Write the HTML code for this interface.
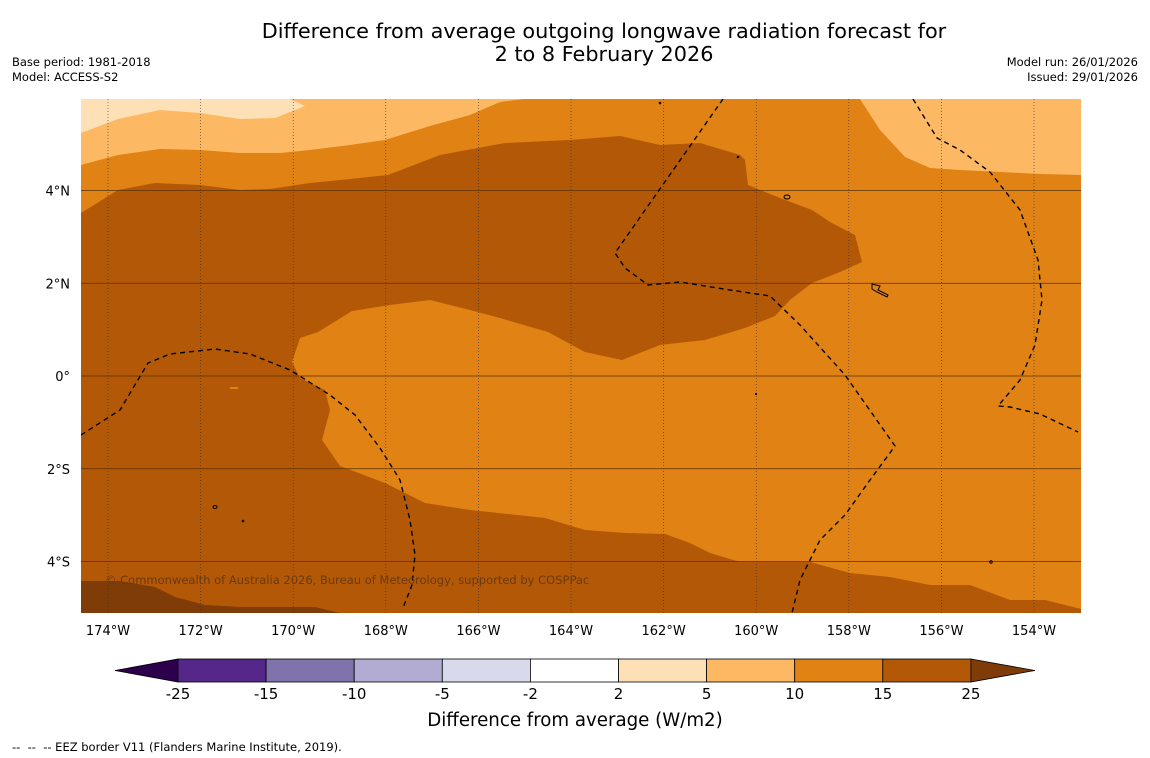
<!DOCTYPE html>
<html><head><meta charset="utf-8">
<style>
body{margin:0;background:#fff;width:1150px;height:758px;overflow:hidden;font-family:"DejaVu Sans","Liberation Sans",sans-serif}
svg{position:absolute;left:0;top:0;font-family:"DejaVu Sans","Liberation Sans",sans-serif}
</style></head>
<body>
<svg id="chart" width="1150" height="758" viewBox="0 0 1150 758" xmlns="http://www.w3.org/2000/svg">
<text x="604" y="38" text-anchor="middle" font-size="20.8" fill="#000">Difference from average outgoing longwave radiation forecast for</text>
<text x="604" y="61" text-anchor="middle" font-size="20.8" fill="#000">2 to 8 February 2026</text>
<text x="12" y="66" font-size="11.5">Base period: 1981-2018</text>
<text x="12" y="81" font-size="11.5">Model: ACCESS-S2</text>
<text x="1138" y="66" font-size="11.5" text-anchor="end">Model run: 26/01/2026</text>
<text x="1138" y="81" font-size="11.5" text-anchor="end">Issued: 29/01/2026</text>
<defs><clipPath id="mapclip"><rect x="81" y="99" width="1000" height="514"/></clipPath></defs>
<g clip-path="url(#mapclip)">
<rect x="81" y="99" width="1000" height="514" fill="#e08214"/>
<polygon fill="#fdb863" points="81,99 525,99 500,102 470,115 430,126 385,140 350,145 310,150 280,153 240,153 200,150 160,149 118,155 81,165"/>
<polygon fill="#fee0b6" points="81,99 290,99 305,106 275,118 240,119 200,113 160,110 118,119 81,133"/>
<polygon fill="#fdb863" points="860,99 1081,99 1081,175 1040,174 1000,172 960,170 930,168 905,157 880,130"/>
<polygon fill="#b35806" points="81,213 118,190 155,183 200,185 240,190 270,189 310,183 350,179 388,175 440,155 505,143 570,140 620,136 660,145 700,143 740,155 745,160 748,185 780,198 812,210 830,222 855,235 862,262 840,272 812,283 790,300 775,316 745,328 705,340 660,345 622,360 585,352 548,332 500,318 470,310 430,300 390,305 352,311 318,332 300,338 292,362 300,378 325,390 330,410 322,440 340,466 385,483 425,503 470,510 545,518 585,530 625,533 665,534 690,543 710,553 740,562 810,562 850,573 890,577 930,585 970,585 1010,600 1045,600 1081,609 1081,613 81,613"/>
<polygon fill="#7f3b08" points="81,581 120,581 155,587 175,597 205,605 240,607 315,607 340,613 81,613"/>
<rect x="230" y="387" width="8" height="2" fill="#e08214"/>
<g id="grid"></g>
<g fill="none" stroke="#000" stroke-width="1.4" stroke-dasharray="5,4">
<polyline points="723,99 615,253 625,268 648,285 680,282 730,290 770,296 800,325 845,375 895,446 870,480 845,515 820,540 800,580 792,613"/>
<polyline points="913,99 937,138 960,150 990,172 1020,210 1038,260 1042,300 1035,345 1020,380 998,406 1010,407 1040,414 1078,432"/>
<polyline points="81,435 120,410 148,363 170,354 215,349 250,354 290,370 330,395 355,415 380,448 400,480 410,520 415,555 412,585 403,608"/>
</g>
<g fill="none" stroke="#000" stroke-width="1">
<ellipse cx="787" cy="197" rx="3" ry="2"/>
<path d="M872,284 l8,2 -2,4 10,5 -1,2 -10,-5 -5,-3z"/>
<ellipse cx="215" cy="507" rx="2" ry="1.5"/>
<circle cx="660" cy="103" r="0.8"/><circle cx="738" cy="157" r="0.8"/><circle cx="243" cy="521" r="0.8"/><circle cx="756" cy="394" r="0.6"/><circle cx="991" cy="562" r="1.2"/>
</g>
<text x="105" y="584" font-size="11.5" fill="#6b3a10">© Commonwealth of Australia 2026, Bureau of Meteorology, supported by COSPPac</text>
</g>
<g id="axes"></g>
<g id="cbar"></g>
<text x="575" y="726" text-anchor="middle" font-size="18.2">Difference from average (W/m2)</text>
<text x="12" y="751" font-size="11.5">-- &#160;-- &#160;-- EEZ border V11 (Flanders Marine Institute, 2019).</text>
</svg>
<script>
const lonTicks=[-174,-172,-170,-168,-166,-164,-162,-160,-158,-156,-154];
const latTicks=[4,2,0,-2,-4];
const cbarLevels=[-25,-15,-10,-5,-2,2,5,10,15,25];
const cbarColors=["#542788","#8073ac","#b2abd2","#d8daeb","#ffffff","#fee0b6","#fdb863","#e08214","#b35806"];
const ns="http://www.w3.org/2000/svg";
const xOf=lon=>108+(lon+174)*46.3;
const yOf=lat=>376-lat*46.375;
function mk(t,a,p){const e=document.createElementNS(ns,t);for(const k in a)e.setAttribute(k,a[k]);p.appendChild(e);return e;}
const grid=document.getElementById('grid'),axes=document.getElementById('axes'),cb=document.getElementById('cbar');
lonTicks.forEach(l=>{
 const ln=mk('line',{x1:xOf(l),x2:xOf(l),y1:99,y2:613,stroke:'#333','stroke-width':0.6,'stroke-dasharray':'1,2'},grid);
 
 
 const t=mk('text',{x:xOf(l),y:635,'text-anchor':'middle','font-size':13},axes);
 t.textContent=Math.abs(l)+'°W';
 
 
});
latTicks.forEach(l=>{
 const ln=mk('line',{x1:81,x2:1081,y1:yOf(l),y2:yOf(l),stroke:'#5a3000','stroke-width':0.7},grid);
 
 
 const t=mk('text',{x:70,y:yOf(l)+5,'text-anchor':'end','font-size':13},axes);
 t.textContent=l===0?'0°':Math.abs(l)+'°'+(l>0?'N':'S');
 
 
});
const cx0=178,cw=88.1,cy=659,ch=23;
const lt=mk('polygon',{points:`115,${cy+ch/2} ${cx0},${cy} ${cx0},${cy+ch}`,fill:'#2d004b',stroke:'#000','stroke-width':0.8},cb);


cbarColors.forEach((c,i)=>{
 const r=mk('rect',{x:cx0+i*cw,y:cy,width:cw,height:ch,fill:c,stroke:'#000','stroke-width':0.8},cb);
 
 
});
const xe=cx0+cbarColors.length*cw;
const rt=mk('polygon',{points:`${xe},${cy} ${xe+64},${cy+ch/2} ${xe},${cy+ch}`,fill:'#7f3b08',stroke:'#000','stroke-width':0.8},cb);


cbarLevels.forEach((v,i)=>{
 const t=mk('text',{x:cx0+i*cw,y:699,'text-anchor':'middle','font-size':15},cb);
 t.textContent=v;
 
 
});
</script>
</body></html>
